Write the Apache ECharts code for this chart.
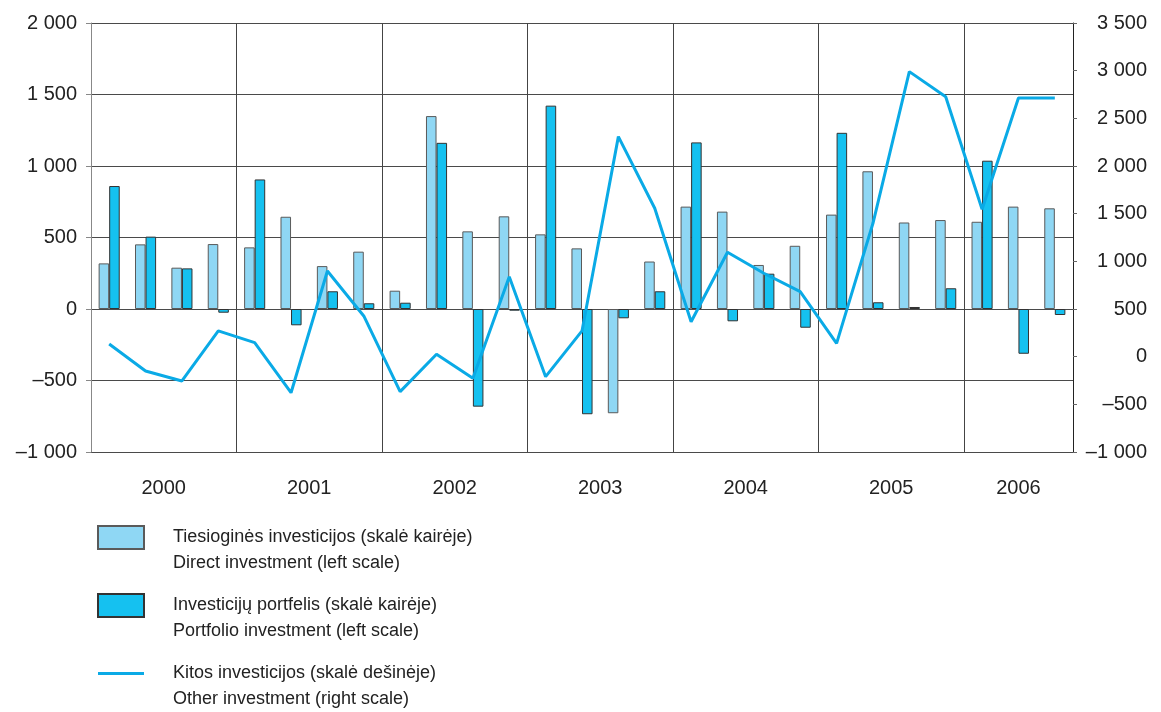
<!DOCTYPE html>
<html>
<head>
<meta charset="utf-8">
<script src="https://cdn.jsdelivr.net/npm/echarts@6/dist/echarts.min.js"></script>
<style>
  html, body { margin: 0; padding: 0; background: #fff; }
  #chart { width: 1161px; height: 712px; }
</style>
</head>
<body>
<div id="chart"></div>
<script>
// ketvirčiai 2000 I – 2006 III
const years = ['2000', '2001', '2002', '2003', '2004', '2005', '2006']
const quartersPerYear = [4, 4, 4, 4, 4, 4, 3]
const quarters = []
years.forEach((y, i) => {
  for (let q = 1; q <= quartersPerYear[i]; q++) quarters.push(y + ' Q' + q)
})

// Tiesioginės investicijos (kairė skalė)
const directInv = [319, 452, 289, 454, 431, 645, 300, 401, 128, 1349, 543, 648, 522, 424,
  -729, 332, 716, 681, 308, 442, 660, 963, 605, 622, 610, 716, 704]
// Investicijų portfelis (kairė skalė)
const portfolioInv = [860, 506, 284, -26, 906, -114, 124, 40, 44, 1162, -683, -12, 1422, -736,
  -65, 124, 1165, -86, 247, -131, 1232, 47, 14, 145, 1037, -313, -42]
// Kitos investicijos (dešinė skalė)
const otherInv = [133, -150, -255, 270, 147, -378, 899, 427, -367, 25, -227, 839, -210, 270,
  2308, 1557, 367, 1095, 875, 682, 140, 1399, 2990, 2727, 1546, 2714, 2714]

const legendLines = {
  'Tiesioginės investicijos (skalė kairėje)': 'Direct investment (left scale)',
  'Investicijų portfelis (skalė kairėje)': 'Portfolio investment (left scale)',
  'Kitos investicijos (skalė dešinėje)': 'Other investment (right scale)'
}
const names = Object.keys(legendLines)

// metų žymių vietos (vidurys tarp metų ribų)
const yearMid = {}
let acc = 0
years.forEach((y, i) => {
  yearMid[acc + quartersPerYear[i] / 2] = y
  acc += quartersPerYear[i]
})
const total = acc

const FONT = '"Liberation Sans", Arial, sans-serif'
const fmt = v => {
  const s = String(Math.abs(v)).replace(/\B(?=(\d{3})+(?!\d))/g, ' ')
  return (v < 0 ? '\u2013' : '') + s
}

const chart = echarts.init(document.getElementById('chart'))
chart.setOption({
  animation: false,
  textStyle: { fontFamily: FONT },
  grid: { left: 91, right: 88, top: 23, height: 429 },
  legend: {
    orient: 'vertical',
    left: 97,
    top: 498.5,
    height: 260,
    padding: 0,
    itemGap: -10,
    itemWidth: 46,
    itemHeight: 23,
    selectedMode: false,
    data: [
      { name: names[0], icon: 'rect' },
      { name: names[1], icon: 'rect' },
      { name: names[2], icon: 'path://M0,0H48V3H0Z', itemStyle: { borderWidth: 0 } }
    ],
    // tuščia pirma eilutė, kad pirmoji teksto eilutė būtų ties ženklu
    formatter: n => ' \n' + n + '\n' + legendLines[n],
    textStyle: {
      fontSize: 18,
      lineHeight: 26,
      color: '#222',
      fontFamily: FONT,
      padding: [0, 0, 0, 24]
    }
  },
  xAxis: [
    {
      type: 'category',
      data: quarters,
      show: false
    },
    {
      type: 'value',
      min: 0, max: total, interval: 0.5,
      position: 'bottom',
      axisLine: { show: false, onZero: false },
      axisTick: { show: false },
      splitLine: { show: false },
      axisLabel: {
        margin: 26,
        fontSize: 20,
        color: '#222',
        formatter: v => yearMid[v] || ''
      }
    },
    {
      type: 'value',
      min: 0, max: total, interval: 4,
      position: 'bottom',
      axisLine: { show: false, onZero: false },
      axisTick: { show: false },
      axisLabel: { show: false },
      splitLine: { show: true, showMinLine: false, showMaxLine: false, lineStyle: { color: '#444', width: 1 } }
    }
  ],
  yAxis: [
    {
      type: 'value',
      min: -1000, max: 2000, interval: 500,
      position: 'left',
      axisLine: { show: true, onZero: false, lineStyle: { color: '#888', width: 1 } },
      axisTick: { show: true, length: 5, lineStyle: { color: '#888' } },
      axisLabel: { margin: 14, fontSize: 20, color: '#222', formatter: fmt },
      splitLine: { show: true, lineStyle: { color: '#4a4a4a', width: 1 } }
    },
    {
      type: 'value',
      min: -1000, max: 3500, interval: 500,
      position: 'right',
      axisLine: { show: true, onZero: false, lineStyle: { color: '#222', width: 1 } },
      axisTick: { show: true, length: 4, lineStyle: { color: '#666' } },
      axisLabel: { margin: 74, align: 'right', fontSize: 20, color: '#222', formatter: fmt },
      splitLine: { show: false }
    }
  ],
  series: [
    {
      name: names[0],
      type: 'bar',
      data: directInv,
      barWidth: '29%',
      barGap: '0%',
      itemStyle: { color: '#8fd7f4', borderColor: '#5a5a5a', borderWidth: 1 }
    },
    {
      name: names[1],
      type: 'bar',
      data: portfolioInv,
      barWidth: '29%',
      barGap: '0%',
      itemStyle: { color: '#15c1f0', borderColor: '#333', borderWidth: 1 }
    },
    {
      name: names[2],
      type: 'line',
      yAxisIndex: 1,
      data: otherInv,
      symbol: 'none',
      z: 5,
      lineStyle: { color: '#0aaae6', width: 3 },
      itemStyle: { color: '#0aaae6' }
    }
  ]
})
</script>
</body>
</html>
